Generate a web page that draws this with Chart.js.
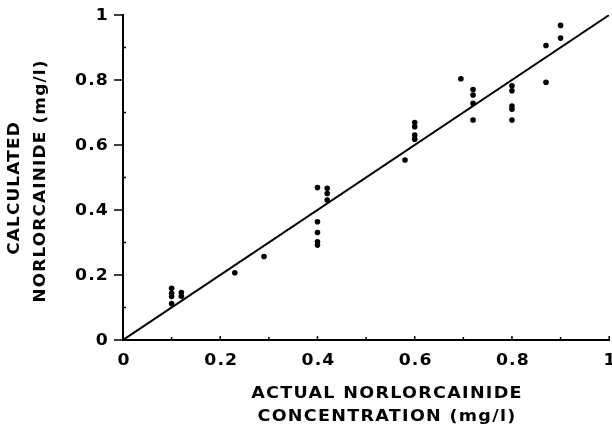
<!DOCTYPE html>
<html>
<head>
<meta charset="utf-8">
<script src="https://cdn.jsdelivr.net/npm/chart.js@4/dist/chart.umd.min.js"></script>
<style>
  html, body { margin: 0; padding: 0; background: #fff; }
  #wrap { width: 612px; height: 428px; }
</style>
</head>
<body>
<div id="wrap"><canvas id="c" width="612" height="428"></canvas></div>
<script>
// ## data ##############################################################
const actual = [
  0.10, 0.10, 0.10, 0.10,
  0.12, 0.12,
  0.23,
  0.29,
  0.40, 0.40, 0.40, 0.40, 0.40,
  0.42, 0.42, 0.42,
  0.58,
  0.60, 0.60, 0.60, 0.60,
  0.695,
  0.72, 0.72, 0.72, 0.72,
  0.80, 0.80, 0.80, 0.80, 0.80,
  0.87, 0.87,
  0.90, 0.90
];
const calculated = [
  0.159, 0.144, 0.134, 0.112,
  0.146, 0.135,
  0.207,
  0.257,
  0.469, 0.364, 0.331, 0.302, 0.292,
  0.467, 0.451, 0.431,
  0.554,
  0.669, 0.656, 0.631, 0.618,
  0.804,
  0.771, 0.754, 0.728, 0.677,
  0.782, 0.767, 0.720, 0.710, 0.677,
  0.906, 0.793,
  0.968, 0.929
];
// line of identity drawn through the points
const fitX = [0, 1];
const fitY = [0, 1];

const xTickLabels = ['0', '0.2', '0.4', '0.6', '0.8', '1'];
const yTickLabels = ['0', '0.2', '0.4', '0.6', '0.8', '1'];
const xTitle = ['ACTUAL NORLORCAINIDE', 'CONCENTRATION (mg/l)'];
const yTitle = ['CALCULATED', 'NORLORCAINIDE (mg/l)'];

const FONT = 'bold 15px "DejaVu Sans", sans-serif';

// label for a 0.1-step tick, '' for the minor ones
function majorLabel(v, labels) {
  const k = Math.round(v * 10);
  return k % 2 === 0 ? labels[k / 2] : '';
}

// old typewriter-ish lettering is wider than any font we have, so stretch it
function wideText(ctx, text, x, y, align, rot, sx, spacing) {
  ctx.save();
  ctx.translate(x, y);
  if (rot) ctx.rotate(rot);
  ctx.scale(sx, 1);
  ctx.letterSpacing = spacing + 'px';
  ctx.textAlign = align;
  ctx.fillText(text, 0, 0);
  ctx.restore();
}

// ## axes decoration: inward/outward ticks, labels, titles #############
const axisDeco = {
  id: 'axisDeco',
  afterDraw(chart) {
    const { ctx } = chart;
    const xs = chart.scales.x, ys = chart.scales.y;
    ctx.save();
    ctx.strokeStyle = '#000';
    ctx.lineWidth = 1.5;
    ctx.beginPath();
    xs.ticks.forEach(t => {
      const px = xs.getPixelForValue(t.value);
      const major = majorLabel(t.value, xTickLabels) !== '';
      ctx.moveTo(px, xs.top);
      ctx.lineTo(px, xs.top - (major ? 4 : 3));
    });
    ys.ticks.forEach(t => {
      const py = ys.getPixelForValue(t.value);
      const major = majorLabel(t.value, yTickLabels) !== '';
      ctx.moveTo(ys.right, py);
      ctx.lineTo(major ? ys.right - 9 : ys.right + 3, py);
    });
    ctx.stroke();

    ctx.fillStyle = '#000';
    ctx.font = FONT;
    ctx.textBaseline = 'middle';

    xs.ticks.forEach(t => {
      const lab = majorLabel(t.value, xTickLabels);
      if (lab) wideText(ctx, lab, xs.getPixelForValue(t.value) + 1, 361, 'center', 0, 1.15, 1);
    });
    ys.ticks.forEach(t => {
      const lab = majorLabel(t.value, yTickLabels);
      if (lab) wideText(ctx, lab, 109, ys.getPixelForValue(t.value) + 1, 'right', 0, 1.15, 1);
    });

    // titles
    wideText(ctx, xTitle[0], 387, 394, 'center', 0, 1.17, 1.1);
    wideText(ctx, xTitle[1], 387, 417, 'center', 0, 1.17, 1.1);
    wideText(ctx, yTitle[0], 15, 188, 'center', -Math.PI / 2, 1.13, 1);
    wideText(ctx, yTitle[1], 41, 181, 'center', -Math.PI / 2, 1.13, 1);

    ctx.restore();
  }
};

const axisCommon = {
  type: 'linear',
  min: 0,
  max: 1,
  grid: { display: false },
  border: { display: true, color: '#000', width: 2 },
  ticks: { display: false, stepSize: 0.1 }
};

new Chart(document.getElementById('c'), {
  type: 'scatter',
  data: {
    datasets: [
      {
        label: 'samples',
        data: actual.map((v, i) => ({ x: v, y: calculated[i] })),
        backgroundColor: '#000',
        borderColor: '#000',
        pointRadius: 2.8,
        pointHoverRadius: 2.8,
        borderWidth: 0
      },
      {
        label: 'identity',
        type: 'line',
        data: fitX.map((v, i) => ({ x: v, y: fitY[i] })),
        borderColor: '#000',
        borderWidth: 2,
        pointRadius: 0,
        fill: false
      }
    ]
  },
  options: {
    responsive: false,
    animation: false,
    events: [],
    layout: { padding: { top: 15, right: 2, left: 0, bottom: 0 } },
    plugins: {
      legend: { display: false },
      tooltip: { enabled: false }
    },
    scales: {
      x: Object.assign({}, axisCommon, {
        position: 'bottom',
        afterFit: s => { s.height = 88; }
      }),
      y: Object.assign({}, axisCommon, {
        position: 'left',
        afterFit: s => { s.width = 123; }
      })
    }
  },
  plugins: [axisDeco]
});
</script>
</body>
</html>
